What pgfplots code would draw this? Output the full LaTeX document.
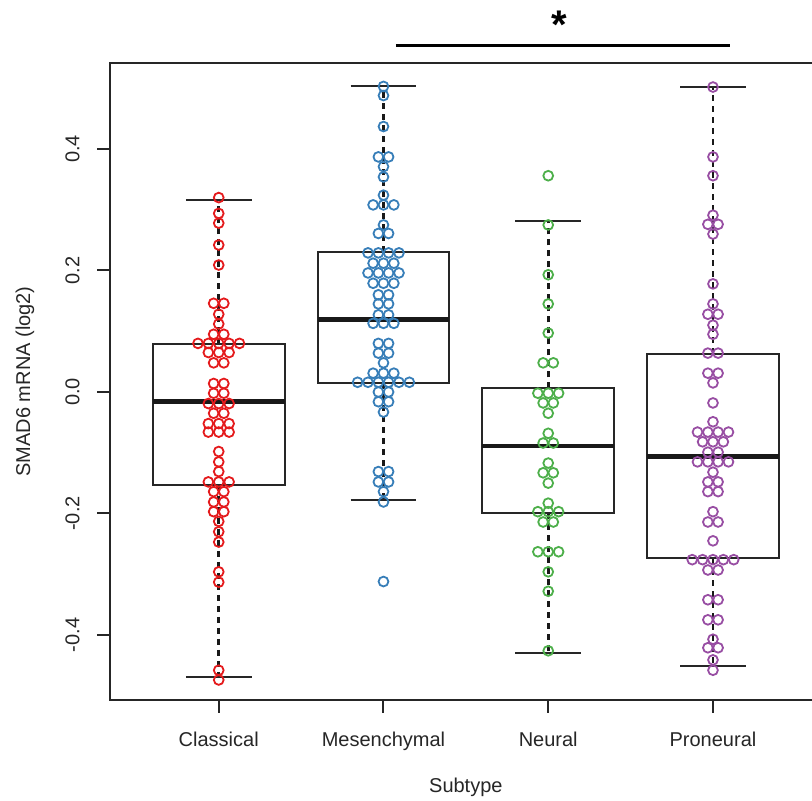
\documentclass[border=0pt]{standalone}
\usepackage{pgfplots}
\pgfplotsset{compat=1.18}
\usepgfplotslibrary{statistics}
\usepackage{pgfplotstable}
\usepackage{fontspec}
\setmainfont{Liberation Sans}
\definecolor{cred}{HTML}{E41A1C}
\definecolor{cblue}{HTML}{377EB8}
\definecolor{cgreen}{HTML}{4DAF4A}
\definecolor{cpurple}{HTML}{984EA3}

\pgfplotstableread{
x y
1 0.320
1 0.294
1 0.278
1 0.242
1 0.209
0.969 0.146
1.031 0.146
1 0.128
1 0.112
0.969 0.095
1.031 0.095
0.874 0.080
0.937 0.080
1 0.080
1.063 0.080
1.126 0.080
0.937 0.065
1 0.065
1.063 0.065
0.969 0.048
1.031 0.048
0.969 0.014
1.031 0.014
0.969 -0.002
1.031 -0.002
0.937 -0.019
1 -0.019
1.063 -0.019
0.969 -0.035
1.031 -0.035
0.937 -0.052
1 -0.052
1.063 -0.052
0.937 -0.066
1 -0.066
1.063 -0.066
1 -0.098
1 -0.115
1 -0.131
0.937 -0.148
1 -0.148
1.063 -0.148
0.969 -0.164
1.031 -0.164
0.969 -0.181
1.031 -0.181
0.969 -0.197
1.031 -0.197
1 -0.213
1 -0.230
1 -0.247
1 -0.296
1 -0.313
1 -0.458
1 -0.474
}\classical

\pgfplotstableread{
x y
2 0.503
2 0.488
2 0.437
1.969 0.387
2.031 0.387
2 0.371
2 0.354
2 0.324
1.937 0.308
2 0.308
2.063 0.308
2 0.275
1.969 0.261
2.031 0.261
1.906 0.229
1.969 0.229
2.031 0.229
2.094 0.229
1.937 0.212
2 0.212
2.063 0.212
1.906 0.196
1.969 0.196
2.031 0.196
2.094 0.196
1.937 0.179
2 0.179
2.063 0.179
1.969 0.160
2.031 0.160
1.969 0.145
2.031 0.145
1.969 0.127
2.031 0.127
1.937 0.113
2 0.113
2.063 0.113
1.969 0.080
2.031 0.080
1.969 0.064
2.031 0.064
2 0.048
1.937 0.031
2 0.031
2.063 0.031
1.843 0.016
1.906 0.016
1.969 0.016
2.031 0.016
2.094 0.016
2.157 0.016
1.969 0.000
2.031 0.000
1.969 -0.016
2.031 -0.016
2 -0.033
1.969 -0.131
2.031 -0.131
1.969 -0.148
2.031 -0.148
2 -0.164
2 -0.181
2 -0.312
}\mesenchymal

\pgfplotstableread{
x y
3 0.356
3 0.275
3 0.193
3 0.145
3 0.097
2.969 0.048
3.031 0.048
2.937 -0.002
3 -0.002
3.063 -0.002
2.969 -0.018
3.031 -0.018
3 -0.035
3 -0.068
2.969 -0.084
3.031 -0.084
3 -0.117
2.969 -0.133
3.031 -0.133
3 -0.150
3 -0.183
2.937 -0.197
3 -0.197
3.063 -0.197
2.969 -0.214
3.031 -0.214
2.937 -0.263
3 -0.263
3.063 -0.263
3 -0.296
3 -0.328
3 -0.426
}\neural

\pgfplotstableread{
x y
4 0.502
4 0.387
4 0.356
4 0.291
3.969 0.276
4.031 0.276
4 0.260
4 0.178
4 0.145
3.969 0.128
4.031 0.128
4 0.110
4 0.095
3.969 0.064
4.031 0.064
3.969 0.031
4.031 0.031
4 0.015
4 -0.018
4 -0.049
3.906 -0.066
3.969 -0.066
4.031 -0.066
4.094 -0.066
3.937 -0.082
4 -0.082
4.063 -0.082
3.969 -0.099
4.031 -0.099
3.906 -0.115
3.969 -0.115
4.031 -0.115
4.094 -0.115
4 -0.132
3.969 -0.148
4.031 -0.148
3.969 -0.164
4.031 -0.164
4 -0.197
3.969 -0.214
4.031 -0.214
4 -0.245
3.874 -0.276
3.937 -0.276
4 -0.276
4.063 -0.276
4.126 -0.276
3.969 -0.293
4.031 -0.293
3.969 -0.342
4.031 -0.342
3.969 -0.375
4.031 -0.375
4 -0.407
3.969 -0.421
4.031 -0.421
4 -0.441
4 -0.458
}\proneural

\begin{document}
\begin{tikzpicture}
\begin{axis}[
  scale only axis,
  width=355.85pt, height=318.5pt,
  at={(0pt,0pt)}, anchor=south west,
  xmin=0.34, xmax=4.66,
  ymin=-0.507, ymax=0.5416,
  clip=false,
  axis line style={line width=1pt, draw=black!85},
  tick style={line width=1pt, draw=black!85},
  tick align=outside,
  major tick length=6.5pt,
  xtick pos=left, ytick pos=left,
  xtick={1,2,3,4},
  xticklabels={Classical,Mesenchymal,Neural,Proneural},
  ytick={-0.4,-0.2,0,0.2,0.4},
  yticklabels={-0.4,-0.2,0.0,0.2,0.4},
  xticklabel style={anchor=north, inner sep=0pt, text=black!85},
  yticklabel style={rotate=90, anchor=south, inner sep=0pt, text=black!85},
  xticklabel shift=9.5pt,
  yticklabel shift=8.5pt,
  xlabel={Subtype},
  ylabel={SMAD6 mRNA (log2)},
  xlabel style={at={(axis description cs:0.5,-0.1366)}, anchor=center, text=black!85},
  ylabel style={at={(axis description cs:-0.1194,0.5)}, anchor=center, rotate=0, text=black!85},
  boxplot/draw direction=y,
  boxplot/draw/median/.code={%
    \draw[line width=2.3pt, black!90] (boxplot box cs:\pgfplotsboxplotvalue{median},0) -- (boxplot box cs:\pgfplotsboxplotvalue{median},1);},
  boxplot/draw/lower whisker/.code={%
    \draw[line width=1.3pt, dash pattern=on 3pt off 2.5pt, black!90] (boxplot whisker cs:\pgfplotsboxplotvalue{lower quartile},0.5) -- (boxplot whisker cs:\pgfplotsboxplotvalue{lower whisker},0.5);
    \draw[line width=1pt, solid, black!85] (boxplot whisker cs:\pgfplotsboxplotvalue{lower whisker},0) -- (boxplot whisker cs:\pgfplotsboxplotvalue{lower whisker},1);},
  boxplot/draw/upper whisker/.code={%
    \draw[line width=1.3pt, dash pattern=on 3pt off 2.5pt, black!90] (boxplot whisker cs:\pgfplotsboxplotvalue{upper quartile},0.5) -- (boxplot whisker cs:\pgfplotsboxplotvalue{upper whisker},0.5);
    \draw[line width=1pt, solid, black!85] (boxplot whisker cs:\pgfplotsboxplotvalue{upper whisker},0) -- (boxplot whisker cs:\pgfplotsboxplotvalue{upper whisker},1);},
]
\addplot[only marks, mark=o, mark size=2.45pt, mark options={line width=0.9pt, draw=cred}] table[x=x,y=y] {\classical};
\addplot[only marks, mark=o, mark size=2.45pt, mark options={line width=0.9pt, draw=cblue}] table[x=x,y=y] {\mesenchymal};
\addplot[only marks, mark=o, mark size=2.45pt, mark options={line width=0.9pt, draw=cgreen}] table[x=x,y=y] {\neural};
\addplot[only marks, mark=o, mark size=2.45pt, mark options={line width=0.9pt, draw=cpurple}] table[x=x,y=y] {\proneural};

\addplot[draw=black!85, line width=1pt, mark=none, boxplot prepared={draw position=1, lower whisker=-0.469, lower quartile=-0.153, median=-0.016, upper quartile=0.079, upper whisker=0.316, box extend=0.8, whisker extend=0.4}] coordinates {};
\addplot[draw=black!85, line width=1pt, mark=none, boxplot prepared={draw position=2, lower whisker=-0.177, lower quartile=0.014, median=0.1195, upper quartile=0.231, upper whisker=0.503, box extend=0.8, whisker extend=0.4}] coordinates {};
\addplot[draw=black!85, line width=1pt, mark=none, boxplot prepared={draw position=3, lower whisker=-0.429, lower quartile=-0.1997, median=-0.089, upper quartile=0.006, upper whisker=0.282, box extend=0.8, whisker extend=0.4}] coordinates {};
\addplot[draw=black!85, line width=1pt, mark=none, boxplot prepared={draw position=4, lower whisker=-0.451, lower quartile=-0.2738, median=-0.1065, upper quartile=0.0626, upper whisker=0.5016, box extend=0.8, whisker extend=0.4}] coordinates {};

\draw[line width=1.5pt, black] (axis cs:2.075,0.571) -- (axis cs:4.103,0.571);
\node[font=\bfseries\fontsize{20}{24}\selectfont, inner sep=0pt, anchor=center] at (axis cs:3.07,0.605) {*};
\end{axis}
\pgfresetboundingbox
\path[use as bounding box] (-55pt,-50.5pt) rectangle (351pt,350pt);
\end{tikzpicture}
\end{document}
